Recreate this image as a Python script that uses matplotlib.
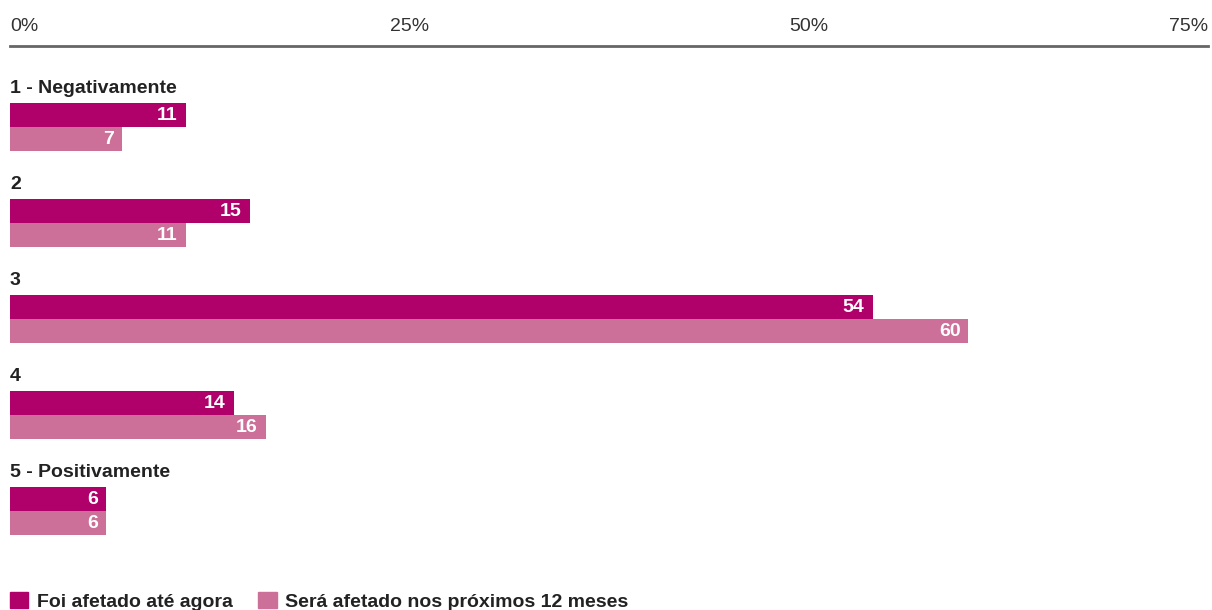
import matplotlib.pyplot as plt
from matplotlib.patches import Patch

# dados
categorias = ['1 - Negativamente', '2', '3', '4', '5 - Positivamente']
ate_agora = [11, 15, 54, 14, 6]
proximos_12 = [7, 11, 60, 16, 6]
series = ['Foi afetado até agora', 'Será afetado nos próximos 12 meses']
ticks = [0, 25, 50, 75]
tick_labels = ['0%', '25%', '50%', '75%']

cor1 = '#B0006A'
cor2 = '#CC7099'

plt.rcParams['font.family'] = ['Liberation Sans', 'DejaVu Sans']

fig = plt.figure(figsize=(12.12, 6.10), dpi=100)
W, H = 1212, 610
ax = fig.add_axes([10 / W, 1 - 560 / H, 1198 / W, 514 / H])

pos = list(range(len(categorias)))
h = 0.25
ax.barh([p for p in pos], ate_agora, height=h, color=cor1)
ax.barh([p + h for p in pos], proximos_12, height=h, color=cor2)

for p, a, b, c in zip(pos, ate_agora, proximos_12, categorias):
    ax.text(a - 0.5, p, str(a), ha='right', va='center', color='white',
            fontsize=14, fontweight='bold')
    ax.text(b - 0.5, p + h, str(b), ha='right', va='center', color='white',
            fontsize=14, fontweight='bold')
    ax.text(0, p - 0.28, c, ha='left', va='center', color='#222222',
            fontsize=14, fontweight='bold')

ax.set_xlim(0, 75)
ax.set_ylim(4.635, -0.719)
ax.set_yticks([])
ax.set_xticks([])
for s in ['right', 'left', 'bottom']:
    ax.spines[s].set_visible(False)
ax.spines['top'].set_color('#666666')
ax.spines['top'].set_linewidth(2)

# rótulos do eixo em cima
for t, lab in zip(ticks, tick_labels):
    ha = 'center'
    if t == ticks[0]:
        ha = 'left'
    elif t == ticks[-1]:
        ha = 'right'
    ax.annotate(lab, (t, -0.719), xytext=(0, 8), textcoords='offset points',
                ha=ha, va='bottom', fontsize=14, color='#333333')

handles = [Patch(color=cor1), Patch(color=cor2)]
leg = fig.legend(handles, series, loc='lower left', bbox_to_anchor=(2 / W, -0.014),
                 ncol=2, frameon=False, handlelength=0.95, handleheight=0.95,
                 handletextpad=0.45, columnspacing=1.3, borderaxespad=0,
                 prop={'weight': 'bold', 'size': 14})
for txt in leg.get_texts():
    txt.set_color('#222222')

fig.savefig('out.png', dpi=100)
